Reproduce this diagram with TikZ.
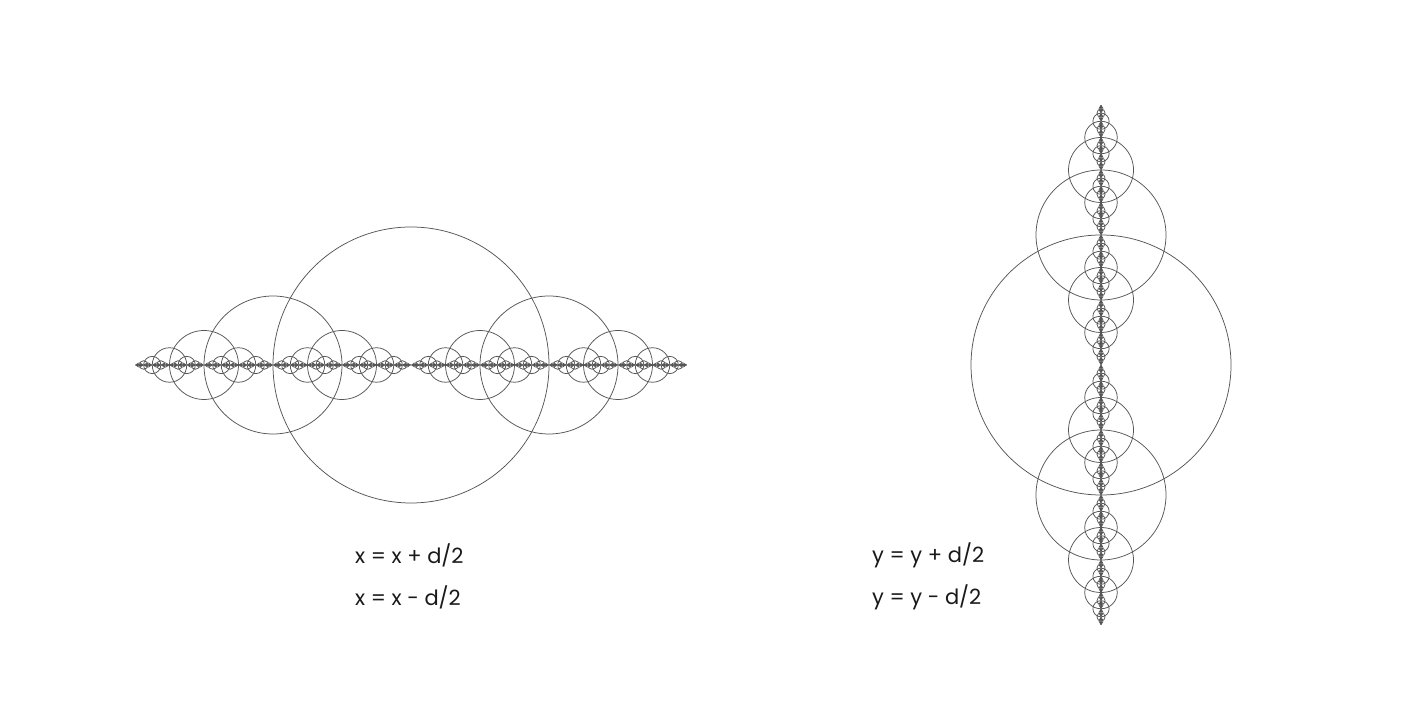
\documentclass[tikz,border=0pt]{standalone}
\usepackage{fontspec}
\setmainfont{Poppins}
\tikzset{circ/.style={draw={rgb,255:red,85;green,85;blue,85},line width=0.75pt},
  formula/.style={anchor=west,inner sep=0pt,font=\fontsize{21}{25}\selectfont,text={rgb,255:red,25;green,25;blue,25}}}
\newcommand\hfr[3]{%
  \draw[circ] (#1pt,#2pt) circle[radius=#3pt];%
  \ifdim #3pt>0.6pt
    \pgfmathsetmacro\nrH{#3/2}%
    \pgfmathsetmacro\xaH{#1+#3}%
    \pgfmathsetmacro\xbH{#1-#3}%
    \edef\nextH{\noexpand\hfr{\xaH}{#2}{\nrH}\noexpand\hfr{\xbH}{#2}{\nrH}}%
    \nextH
  \fi}
\newcommand\vfr[3]{%
  \draw[circ] (#1pt,#2pt) circle[radius=#3pt];%
  \ifdim #3pt>0.6pt
    \pgfmathsetmacro\nrV{#3/2}%
    \pgfmathsetmacro\yaV{#2+#3}%
    \pgfmathsetmacro\ybV{#2-#3}%
    \edef\nextV{\noexpand\vfr{#1}{\yaV}{\nrV}\noexpand\vfr{#1}{\ybV}{\nrV}}%
    \nextV
  \fi}
\begin{document}
\begin{tikzpicture}[x=1pt,y=1pt]
\useasboundingbox[fill=white] (0,0) rectangle (1404,720);
\hfr{411}{355}{138}
\vfr{1101}{355}{130}
\node[formula] (l1) at (355,165) {x = x + d/2};
\node[formula] (l2) at (355,123) {x = x - d/2};
\node[formula] (r1) at (872,165) {y = y + d/2};
\node[formula] (r2) at (872,123) {y = y - d/2};
\end{tikzpicture}
\end{document}
